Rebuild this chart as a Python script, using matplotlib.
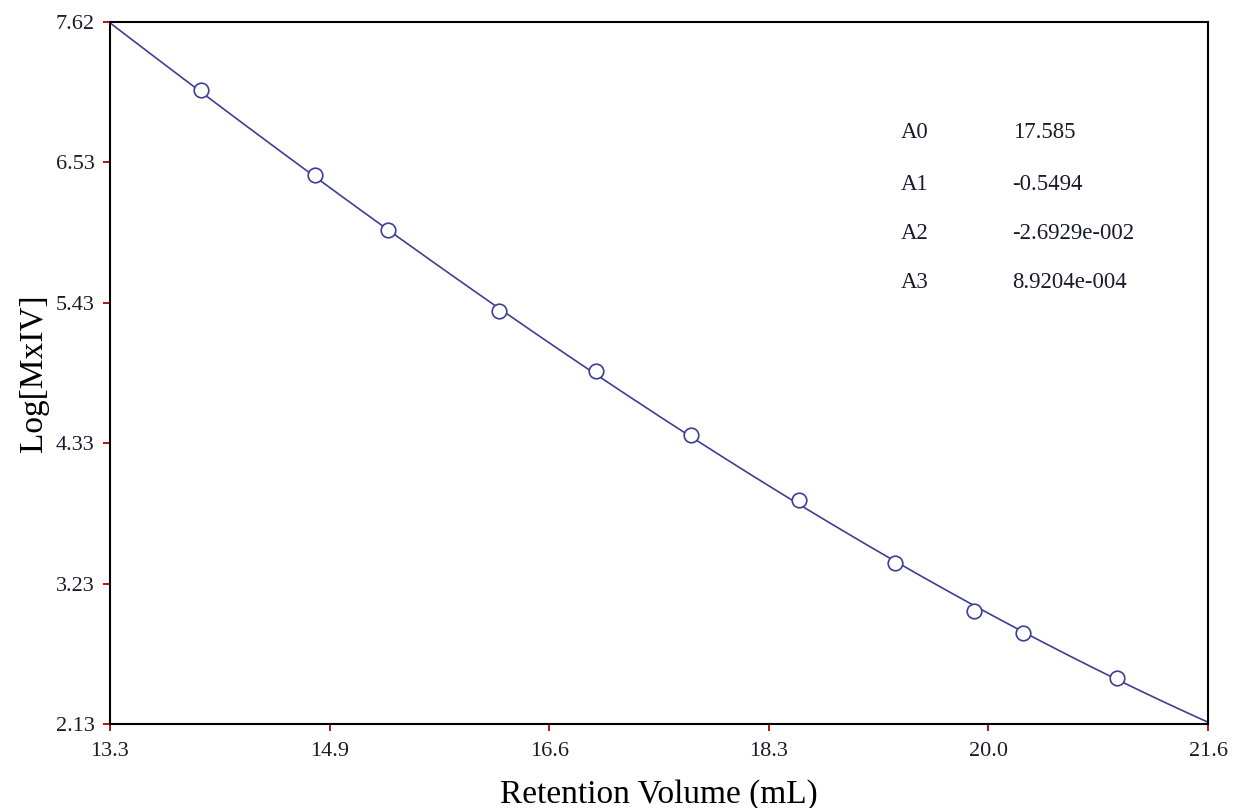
import numpy as np
import matplotlib
matplotlib.use("Agg")
import matplotlib.pyplot as plt

# Calibration standards: retention volume (mL) vs Log[M x IV]
retention_ml = [13.99, 14.85, 15.40, 16.24, 16.97, 17.69, 18.51, 19.23, 19.83, 20.20, 20.91]
log_mxiv = [7.09, 6.42, 5.99, 5.36, 4.89, 4.39, 3.88, 3.39, 3.01, 2.84, 2.49]

# Cubic fit coefficients (A0 + A1*V + A2*V^2 + A3*V^3)
coef_names = ["A0", "A1", "A2", "A3"]
coef_values = [17.585, -0.5494, -2.6929e-002, 8.9204e-004]
coef_labels = ["17.585", "-0.5494", "-2.6929e-002", "8.9204e-004"]

x_ticklabels = ["13.3", "14.9", "16.6", "18.3", "20.0", "21.6"]
y_ticklabels = ["2.13", "3.23", "4.33", "5.43", "6.53", "7.62"]
x_min, x_max = 13.3, 21.6
y_min, y_max = 2.13, 7.62

plt.rcParams["font.family"] = ["Liberation Serif", "DejaVu Serif"]

fig = plt.figure(figsize=(12.37, 8.08), dpi=100)
ax = fig.add_axes([0.0889, 0.104, 0.8877, 0.8688])

line_color = "#3e3e94"
v = np.linspace(x_min, x_max, 400)
fit = np.polyval(coef_values[::-1], v)
ax.plot(v, fit, color=line_color, lw=1.2, zorder=2)
ax.plot(retention_ml, log_mxiv, linestyle="none", marker="o", ms=10.5,
        mfc="white", mec=line_color, mew=1.2, zorder=3)

ax.set_xlim(x_min, x_max)
ax.set_ylim(y_min, y_max)
ax.set_xticks(np.linspace(x_min, x_max, len(x_ticklabels)))
ax.set_xticklabels(x_ticklabels)
ax.set_yticks(np.linspace(y_min, y_max, len(y_ticklabels)))
ax.set_yticklabels(y_ticklabels)

ax.tick_params(axis="both", direction="out", length=5, width=1.3,
               color="#b00000", labelsize=16, labelcolor="#1a1a2a")
ax.tick_params(axis="y", pad=6)
ax.tick_params(axis="x", pad=8)
for s in ax.spines.values():
    s.set_linewidth(1.5)
    s.set_color("black")

ax.set_xlabel("Retention Volume (mL)", fontsize=24, labelpad=13)
ax.set_ylabel("Log[MxIV]", fontsize=24, labelpad=5)

# Fit coefficient table
row_y = [0.843, 0.769, 0.698, 0.629]
for name, lab, yy in zip(coef_names, coef_labels, row_y):
    ax.text(0.720, yy, name, transform=ax.transAxes, fontsize=16.4,
            va="center", ha="left", color="#1a1a2a")
    ax.text(0.822, yy, lab, transform=ax.transAxes, fontsize=16.4,
            va="center", ha="left", color="#1a1a2a")

fig.savefig("out.png", dpi=100, facecolor="white")
